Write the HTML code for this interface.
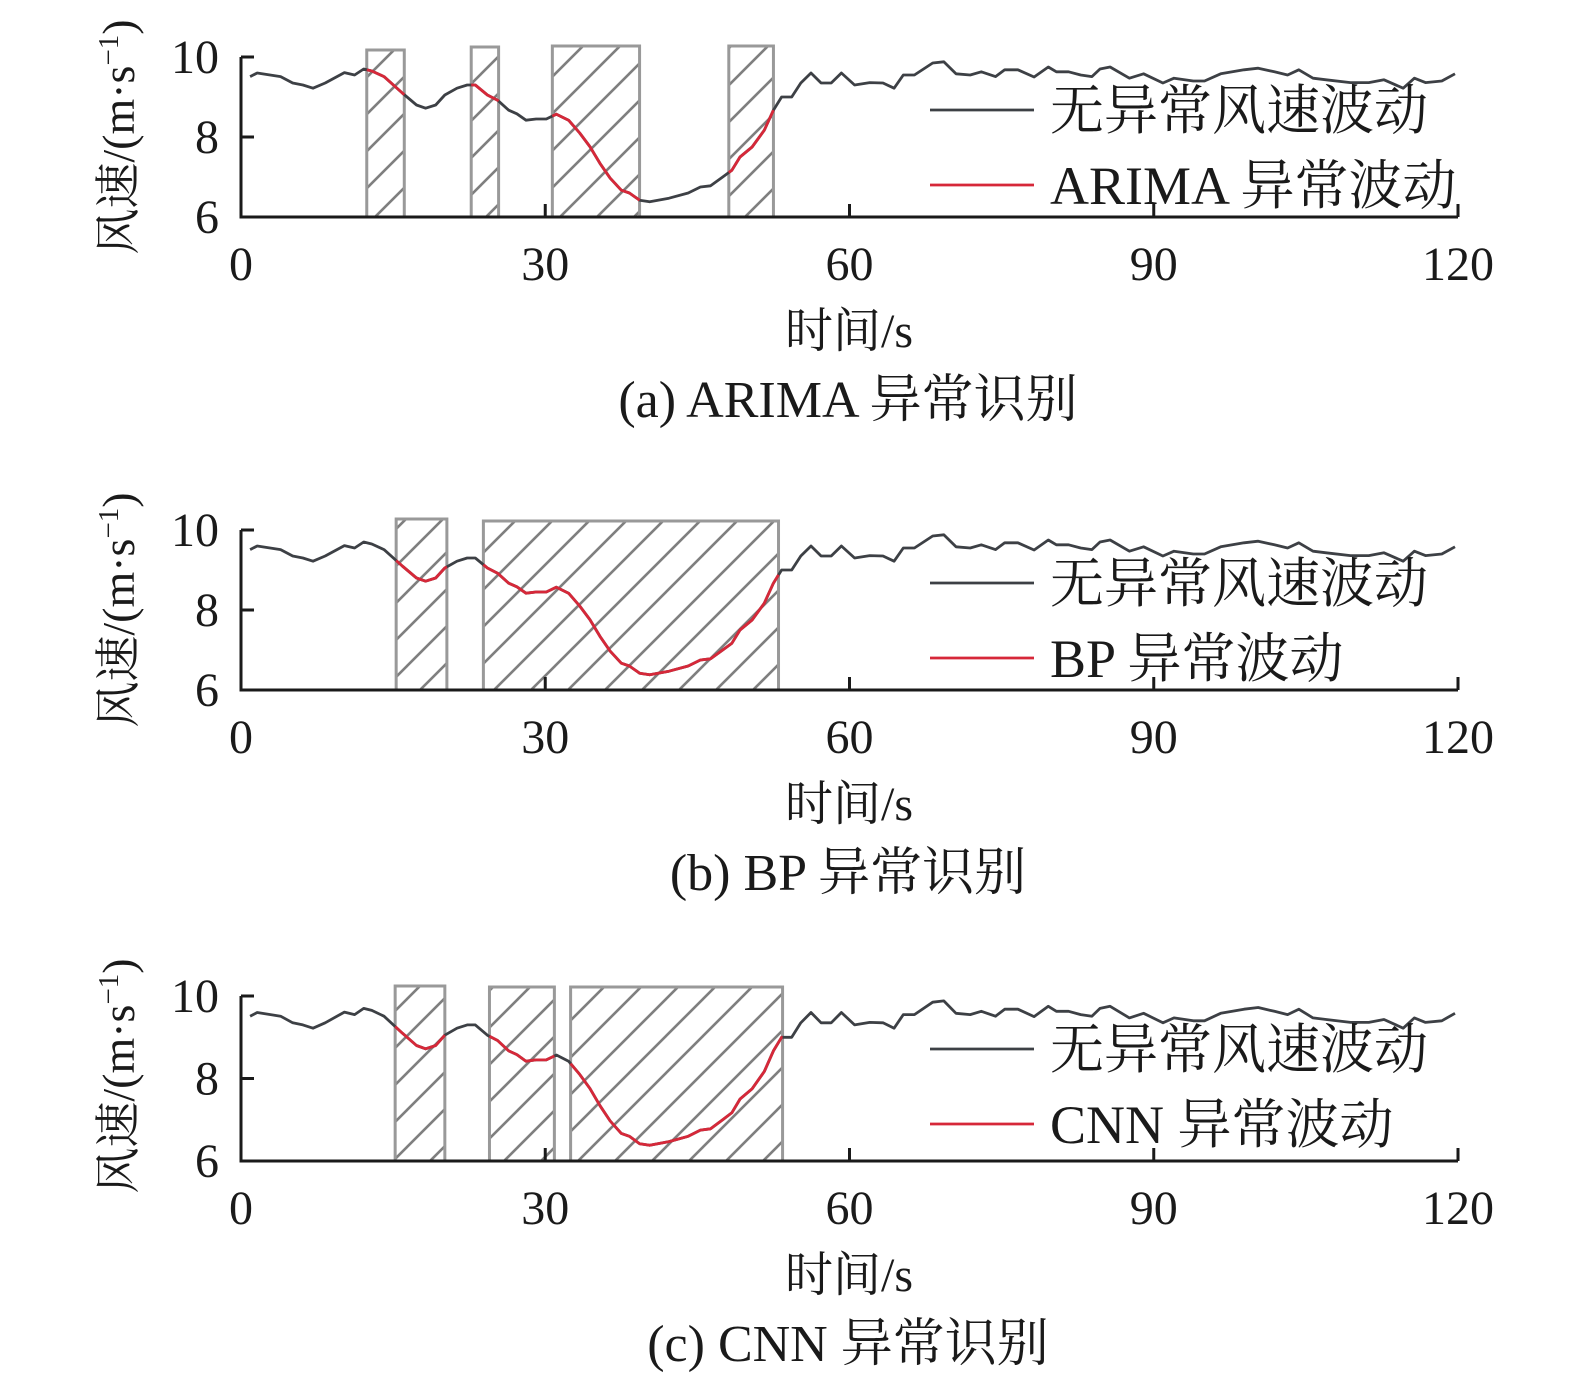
<!DOCTYPE html>
<html><head><meta charset="utf-8"><style>
html,body{margin:0;padding:0;background:#fff;}
svg{display:block;font-family:"Liberation Serif","Noto Serif CJK SC",serif;}
</style></head><body>
<svg id="chart" width="1575" height="1388" viewBox="0 0 1575 1388" xmlns="http://www.w3.org/2000/svg">
<defs>
<pattern id="hatch" patternUnits="userSpaceOnUse" width="37" height="37">
<line x1="0" y1="37" x2="37" y2="0" stroke="#7f7f7f" stroke-width="2.6"/>
<line x1="-5" y1="5" x2="5" y2="-5" stroke="#7f7f7f" stroke-width="2.6"/>
<line x1="32" y1="42" x2="42" y2="32" stroke="#7f7f7f" stroke-width="2.6"/>
</pattern>
</defs>
</svg>
<script>
const times=[0.9,1.6,3.9,5.1,6.1,7.1,8.3,10.2,11.2,12.1,12.9,14.1,15.9,17.3,18.2,19.2,20.1,21.3,22.3,23.1,24.3,25.3,26.4,27.2,28.1,29.1,30.1,31.1,32.3,33.4,34.4,35.4,36.4,37.5,38.3,39.3,40.3,42.2,44.1,45.3,46.3,47.5,48.4,49.2,50.4,51.6,52.5,53.3,54.3,55.2,56.2,57.2,58.2,59.2,60.5,62,63.3,64.4,65.3,66.4,68.2,69.3,70.5,71.9,73,74.4,75.3,76.6,78.2,79.6,80.4,81.6,82.8,83.9,84.7,85.7,87.6,89,90.9,92,93.9,95,96.6,98.9,100.3,101.9,103.2,104.3,105.7,107,109.4,111.2,112.7,114.6,115.7,116.8,118.4,119.7];
const speeds=[9.51,9.6,9.51,9.35,9.3,9.22,9.35,9.61,9.55,9.7,9.65,9.51,9.1,8.8,8.72,8.8,9.05,9.22,9.3,9.3,9.05,8.92,8.67,8.58,8.42,8.45,8.45,8.57,8.42,8.1,7.76,7.34,6.97,6.67,6.6,6.42,6.38,6.47,6.6,6.75,6.78,7.0,7.17,7.5,7.75,8.17,8.67,9.0,9.0,9.35,9.6,9.35,9.35,9.6,9.3,9.36,9.35,9.22,9.55,9.55,9.85,9.88,9.58,9.55,9.63,9.51,9.68,9.68,9.5,9.75,9.63,9.63,9.55,9.51,9.7,9.75,9.47,9.58,9.35,9.47,9.4,9.4,9.58,9.68,9.72,9.63,9.55,9.68,9.47,9.43,9.36,9.36,9.43,9.22,9.47,9.36,9.4,9.58];
const xTicks=[0,30,60,90,120];
const yTicks=[6,8,10];
const methods=["ARIMA","BP","CNN"];
const captions=["(a) ARIMA 异常识别","(b) BP 异常识别","(c) CNN 异常识别"];
const anomA=[[12.4,16.1],[22.7,25.4],[30.7,39.3],[48.1,52.5]];
const anomB=[[15.3,20.3],[23.9,53.0]];
const anomC=[[15.2,20.1],[24.5,30.9],[32.5,53.4]];
const anomalies=[anomA,anomB,anomC];

const NS="http://www.w3.org/2000/svg";
const svg=document.getElementById('chart');
function mk(tag,attrs,parent){const e=document.createElementNS(NS,tag);for(const k in attrs)e.setAttribute(k,attrs[k]);(parent||svg).appendChild(e);return e;}
const panels=[{top:57,bot:217,boxTop:[50,47,46,46]},{top:530,bot:690,boxTop:[519,521]},{top:996,bot:1161,boxTop:[986,987,987]}];
const X0=241,X1=1458;
function valAt(t){for(let i=0;i<times.length-1;i++){if(t>=times[i]&&t<=times[i+1]){const f=(t-times[i])/(times[i+1]-times[i]);return speeds[i]+f*(speeds[i+1]-speeds[i]);}}return speeds[speeds.length-1];}

panels.forEach((p,pi)=>{
  const g=mk('g',{});
  
  
  const xs=t=>X0+(t-0)/(120-0)*(X1-X0);
  const ys=v=>p.bot-(v-6)/(10-6)*(p.bot-p.top);
  anomalies[pi].forEach((a,ai)=>{
    const r=mk('rect',{x:xs(a[0]),y:p.boxTop[ai],width:xs(a[1])-xs(a[0]),height:p.bot-p.boxTop[ai],fill:'url(#hatch)',stroke:'#999','stroke-width':3},g);
    
    
  });
  const d=times.map((t,i)=>(i?'L':'M')+xs(t).toFixed(1)+' '+ys(speeds[i]).toFixed(1)).join(' ');
  const ln=mk('path',{d:d,fill:'none',stroke:'#3d4045','stroke-width':2.8,'stroke-linejoin':'round'},g);
  
  
  anomalies[pi].forEach(a=>{
    const pts=[[a[0],valAt(a[0])]];
    times.forEach((t,i)=>{if(t>a[0]&&t<a[1])pts.push([t,speeds[i]]);});
    pts.push([a[1],valAt(a[1])]);
    const rd=pts.map((q,i)=>(i?'L':'M')+xs(q[0]).toFixed(1)+' '+ys(q[1]).toFixed(1)).join(' ');
    const r=mk('path',{d:rd,fill:'none',stroke:'#d62839','stroke-width':2.8,'stroke-linejoin':'round'},g);
    
    
  });
  const ax=mk('path',{d:`M${X0} ${ys(10)} L${X0} ${p.bot} L${X1} ${p.bot}`,fill:'none',stroke:'#1a1a1a','stroke-width':3},g);
  
  
  yTicks.forEach(v=>{
    mk('line',{x1:X0,x2:X0+13,y1:ys(v),y2:ys(v),stroke:'#1a1a1a','stroke-width':3},g);
    const t=mk('text',{x:219,y:ys(v)+16,'text-anchor':'end','font-size':48,fill:'#1a1a1a'},g);
    t.textContent=v;
    
    
  });
  xTicks.forEach(v=>{
    if(v>0)mk('line',{x1:xs(v),x2:xs(v),y1:p.bot,y2:p.bot-13,stroke:'#1a1a1a','stroke-width':3},g);
    const t=mk('text',{x:xs(v),y:p.bot+63,'text-anchor':'middle','font-size':48,fill:'#1a1a1a'},g);
    t.textContent=v;
    
    
  });
  const yl=mk('text',{x:0,y:0,transform:`translate(134 ${p.top+80}) rotate(-90)`,'text-anchor':'middle','font-size':46,fill:'#1a1a1a'},g);
  yl.innerHTML='风速/(m·s<tspan dy="-16" font-size="29">−1</tspan><tspan dy="16">)</tspan>';
  
  
  const xl=mk('text',{x:849,y:p.bot+130,'text-anchor':'middle','font-size':48,fill:'#1a1a1a'},g);
  xl.textContent='时间/s';
  
  
  const cap=mk('text',{x:848,y:p.bot+200,'text-anchor':'middle','font-size':52,fill:'#1a1a1a'},g);
  cap.textContent=captions[pi];
  
  
  const l1=p.top+53, l2=p.top+128;
  mk('line',{x1:930,x2:1034,y1:l1,y2:l1,stroke:'#3d4045','stroke-width':2.8},g);
  mk('line',{x1:930,x2:1034,y1:l2,y2:l2,stroke:'#d62839','stroke-width':2.8},g);
  const lt1=mk('text',{x:1050,y:l1+19,'font-size':54,fill:'#1a1a1a'},g);
  lt1.textContent='无异常风速波动';
  
  
  const lt2=mk('text',{x:1050,y:l2+19,'font-size':54,fill:'#1a1a1a'},g);
  lt2.textContent=methods[pi]+' 异常波动';
  
  
});
</script>
</body></html>
